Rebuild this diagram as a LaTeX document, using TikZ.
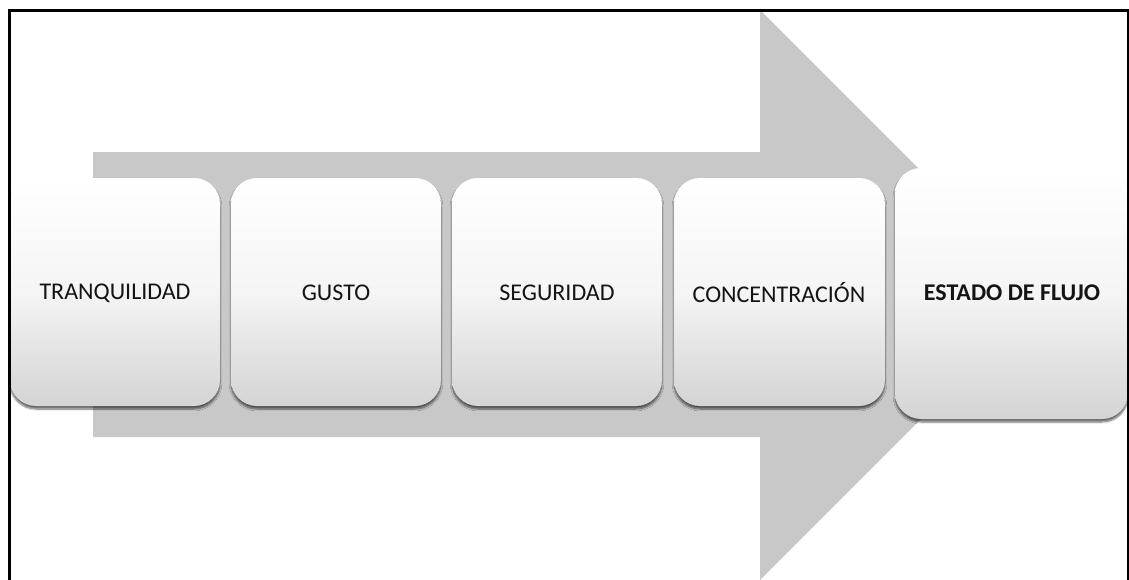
\documentclass[tikz,border=0pt]{standalone}
\usepackage{fontspec}
\setmainfont{Carlito}
\usetikzlibrary{shadows.blur}
\definecolor{arrowgray}{RGB}{200,200,200}
\tikzset{
  stepbox/.style={rounded corners=26pt, top color=white, bottom color=black!17, middle color=white!96!black,
    blur shadow={shadow xshift=0pt, shadow yshift=-3pt, shadow blur steps=6, shadow opacity=60}},
  steplabel/.style={font=\fontsize{24}{28}\selectfont, text=black!92}
}
\begin{document}
\begin{tikzpicture}[x=1pt,y=-1pt]
\useasboundingbox (0,0) rectangle (1129,579);
\begin{scope}
\clip (0,0) rectangle (1129,579);
% big arrow
\fill[arrowgray] (93,152) -- (760,152) -- (760,10) -- (1045,295) -- (760,580) -- (760,437) -- (93,437) -- cycle;
% boxes
\shade[stepbox] (10,178) rectangle (220,406);
\shade[stepbox] (231,178) rectangle (441,406);
\shade[stepbox] (452,178) rectangle (662,406);
\shade[stepbox] (674,178) rectangle (885,406);
\shade[stepbox] (895,168) rectangle (1128,419);
\node[steplabel] (t1) at (115,293) {TRANQUILIDAD};
\node[steplabel] (t2) at (336,293) {GUSTO};
\node[steplabel] (t3) at (557,293) {SEGURIDAD};
\node[steplabel] (t4) at (779,293) {CONCENTRACIÓN};
\node[steplabel, font=\fontsize{24}{28}\selectfont\bfseries] (t5) at (1012,293) {ESTADO DE FLUJO};
% frame
\draw[line width=3pt] (9,620) -- (9,10) -- (1128,10) -- (1128,620);
\end{scope}
\end{tikzpicture}
\end{document}
